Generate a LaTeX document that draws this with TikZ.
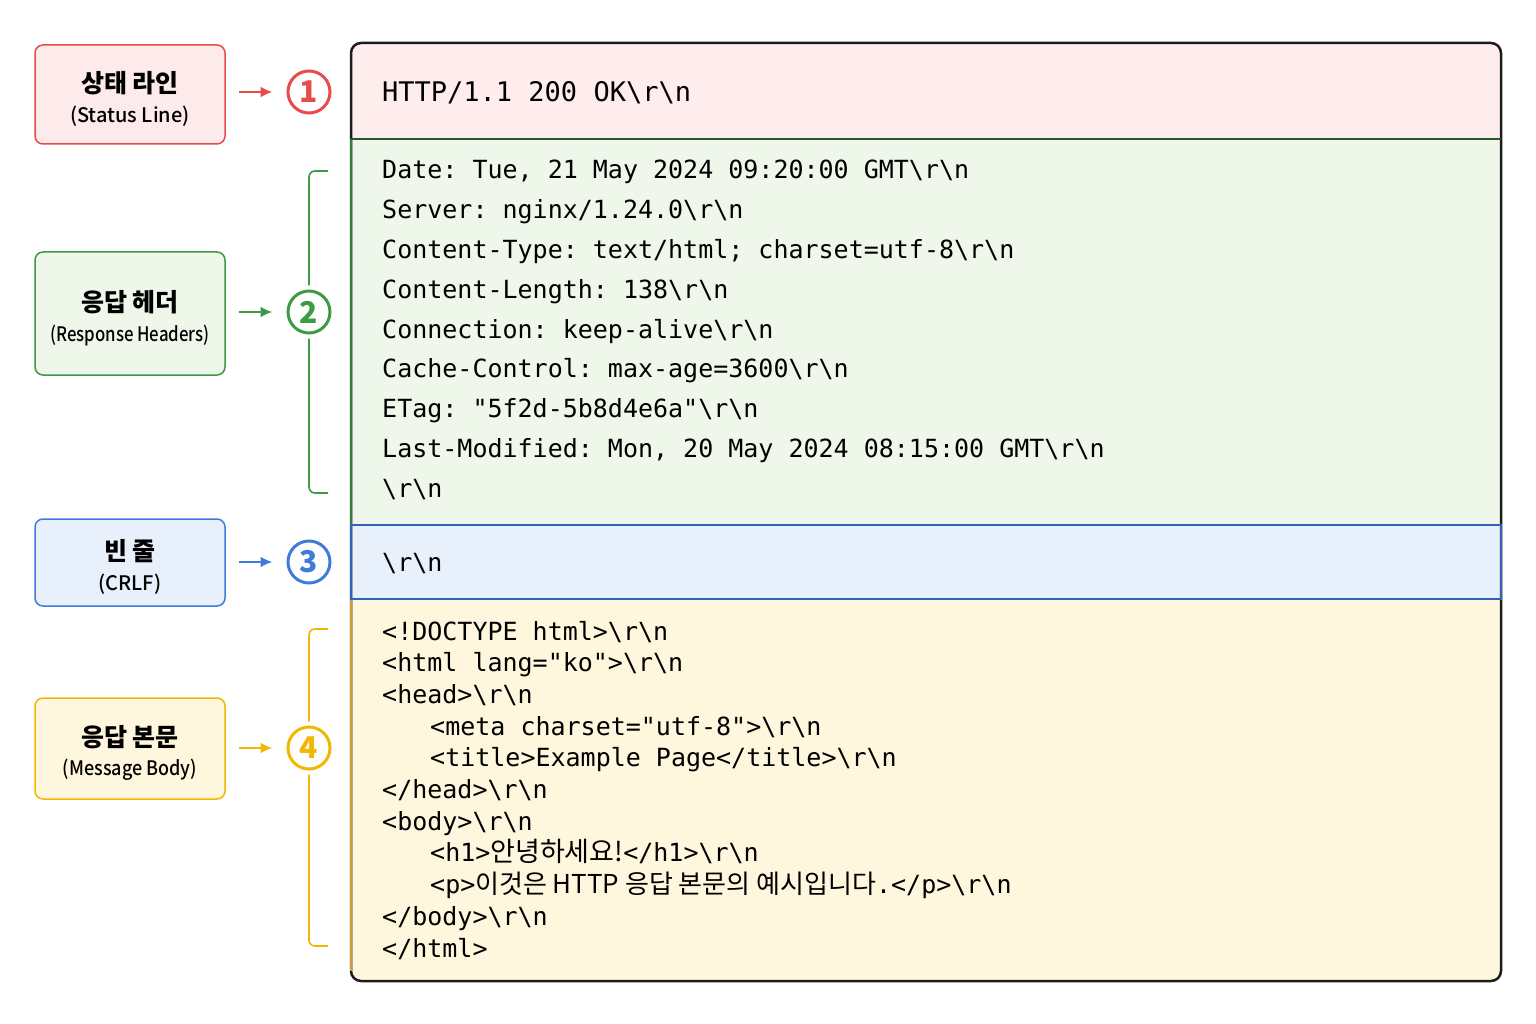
\documentclass[tikz,border=0pt]{standalone}
\usepackage{fontspec}
\usepackage{graphicx}
\setmonofont{DejaVu Sans Mono}
\newfontfamily\krfont{Noto Sans CJK KR}
\newfontfamily\krmid{Noto Sans CJK KR Medium}
\usetikzlibrary{positioning,arrows.meta}

\definecolor{redline}{HTML}{E94B4B}
\definecolor{redfill}{HTML}{FDEBEB}
\definecolor{redsec}{HTML}{FFEDED}
\definecolor{grnline}{HTML}{3E9A43}
\definecolor{grnfill}{HTML}{EEF7EA}
\definecolor{grnedge}{HTML}{3A7D3E}
\definecolor{bluline}{HTML}{3F7BDB}
\definecolor{blufill}{HTML}{E8F0FC}
\definecolor{bluedge}{HTML}{2F63B8}
\definecolor{ylwline}{HTML}{F2B705}
\definecolor{ylwfill}{HTML}{FFF6DE}
\definecolor{ylwedge}{HTML}{C9A03A}
\definecolor{frame}{HTML}{1C1C1C}

\newcommand\crlf{\textbackslash r\textbackslash n}
\newcommand\toppad{\rule{0pt}{30pt}}

\begin{document}
\begin{tikzpicture}[
  x=1pt, y=-1pt,
  partbox/.style={draw, rounded corners=8pt, line width=1.5pt, minimum width=190pt,
    align=center, inner sep=0pt, font=\krfont},
  num/.style={circle, draw, line width=3pt, minimum size=42pt, inner sep=0pt,
    font=\krfont\bfseries\fontsize{30}{30}\selectfont},
  pointer/.style={-{Latex[length=12pt,width=11pt]}, line width=2.5pt,
    shorten <=13pt, shorten >=14pt},
  bracket/.style={line width=1.6pt, rounded corners=6pt, shorten >=4pt},
  code/.style={anchor=base west, inner sep=0pt},
]
\useasboundingbox (0,0) rectangle (1536,1024);

% labels on the left
\node[partbox, draw=redline, fill=redfill, minimum height=99pt] (status) at (130,94.5)
  {\fontsize{25}{28}\selectfont\bfseries\toppad 상태 라인\\[10pt]
   \fontsize{20}{24}\selectfont\krmid (Status Line)};
\node[partbox, draw=grnline, fill=grnfill, minimum height=123pt] (headers) at (130,313.5)
  {\fontsize{25}{28}\selectfont\bfseries\toppad 응답 헤더\\[10pt]
   \fontsize{20}{24}\selectfont\krmid \scalebox{0.84}[1]{(Response Headers)}};
\node[partbox, draw=bluline, fill=blufill, minimum height=87pt] (blank) at (130,562.5)
  {\fontsize{25}{28}\selectfont\bfseries\toppad 빈 줄\\[10pt]
   \fontsize{20}{24}\selectfont\krmid (CRLF)};
\node[partbox, draw=ylwline, fill=ylwfill, minimum height=101pt] (body) at (130,748.5)
  {\fontsize{25}{28}\selectfont\bfseries\toppad 응답 본문\\[10pt]
   \fontsize{20}{24}\selectfont\krmid \scalebox{0.9}[1]{(Message Body)}};

% numbered markers
\node[num, draw=redline, text=redline] (n1) at (309,92) {1};
\node[num, draw=grnline, text=grnline] (n2) at (309,312) {2};
\node[num, draw=bluline, text=bluline] (n3) at (309,562) {3};
\node[num, draw=ylwline, text=ylwline] (n4) at (309,748) {4};

\draw[pointer, redline] (status.east |- n1) -- (n1);
\draw[pointer, grnline] (headers.east |- n2) -- (n2);
\draw[pointer, bluline] (blank.east |- n3) -- (n3);
\draw[pointer, ylwline] (body.east |- n4) -- (n4);

% brackets
\coordinate (hdtop) at (328,171);
\coordinate (hdbot) at (328,493);
\coordinate (bdtop) at (328,629);
\coordinate (bdbot) at (328,946);
\draw[bracket, grnline] (hdtop) -| (n2.north);
\draw[bracket, grnline] (hdbot) -| (n2.south);
\draw[bracket, ylwline] (bdtop) -| (n4.north);
\draw[bracket, ylwline] (bdbot) -| (n4.south);

% the message itself
\begin{scope}
  \clip[rounded corners=10pt] (351,43) rectangle (1501,981);
  \fill[redsec] (351,43) rectangle (1501,139);
  \fill[grnfill] (351,139) rectangle (1501,525);
  \fill[blufill] (351,525) rectangle (1501,599);
  \fill[ylwfill] (351,599) rectangle (1501,981);
\end{scope}
\draw[frame, line width=2.5pt, rounded corners=10pt] (351,43) rectangle (1501,981);
\draw[grnedge, line width=2.5pt] (351,139) -- (351,525);
\draw[ylwedge, line width=2.5pt] (351,599) -- (351,971);
\draw[grnedge!70!black, line width=2pt] (351,139) -- (1501,139);
\draw[bluedge, line width=2pt] (351,525) rectangle (1501,599);

\node[code, font=\ttfamily\fontsize{27}{27}\selectfont] (stline) at (382,102)
  {HTTP/1.1 200 OK\crlf};

\foreach \ln [count=\i from 0] in {
  {Date: Tue, 21 May 2024 09:20:00 GMT\crlf},
  {Server: nginx/1.24.0\crlf},
  {Content-Type: text/html; charset=utf-8\crlf},
  {Content-Length: 138\crlf},
  {Connection: keep-alive\crlf},
  {Cache-Control: max-age=3600\crlf},
  {ETag: "5f2d-5b8d4e6a"\crlf},
  {Last-Modified: Mon, 20 May 2024 08:15:00 GMT\crlf},
  {\crlf}}
  \node[code, font=\ttfamily\fontsize{25}{25}\selectfont] (hd\i) at (382,179+39.75*\i) {\ln};

\node[code, font=\ttfamily\fontsize{25}{25}\selectfont] (crlf) at (382,571) {\crlf};

\foreach \ln [count=\i from 0] in {
  {<!DOCTYPE html>\crlf},
  {<html lang="ko">\crlf},
  {<head>\crlf},
  {\hspace*{48pt}<meta charset="utf-8">\crlf},
  {\hspace*{48pt}<title>Example Page</title>\crlf},
  {</head>\crlf},
  {<body>\crlf},
  {\hspace*{48pt}<h1>{\krfont\fontsize{27}{27}\selectfont 안녕하세요!}</h1>\crlf},
  {\hspace*{48pt}<p>{\krfont\fontsize{26}{26}\selectfont 이것은 HTTP 응답 본문의 예시입니다}.</p>\crlf},
  {</body>\crlf},
  {</html>}}
  \node[code, font=\ttfamily\fontsize{25}{25}\selectfont] (bd\i) at (382,640+31.7*\i) {\ln};

\end{tikzpicture}
\end{document}
